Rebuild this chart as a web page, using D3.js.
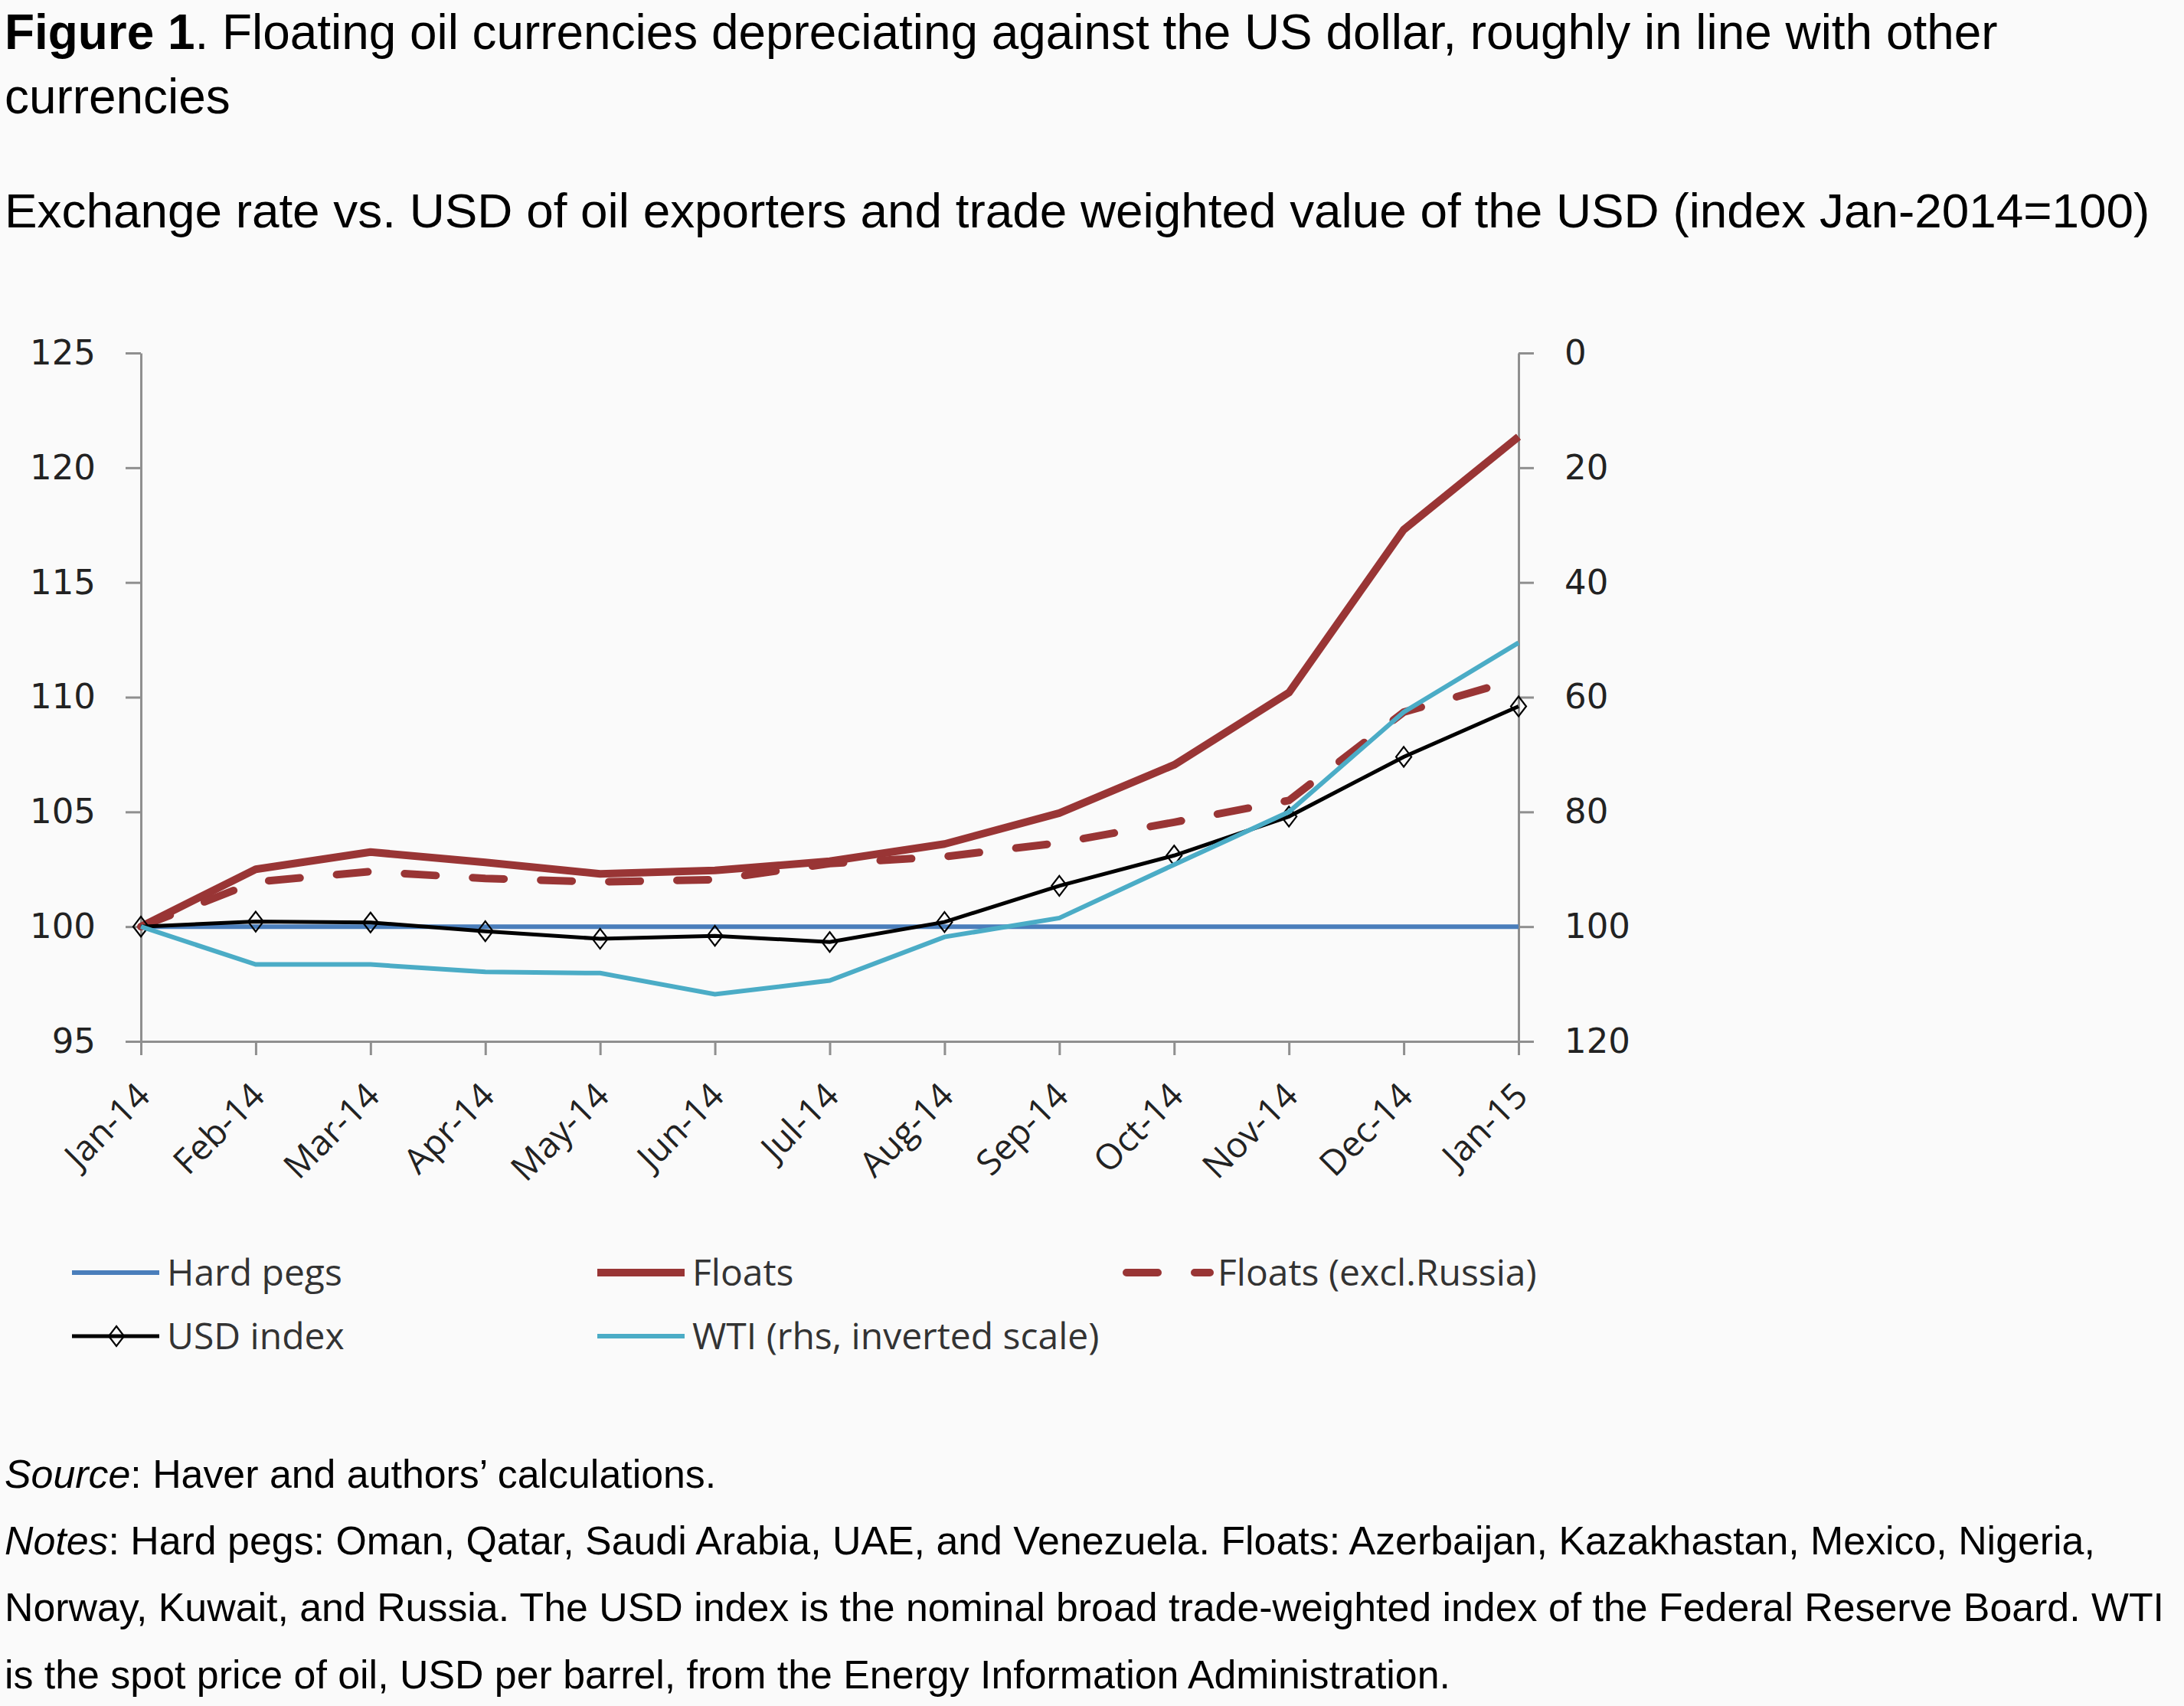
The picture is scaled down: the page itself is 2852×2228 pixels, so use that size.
<!DOCTYPE html>
<html><head><meta charset="utf-8">
<script src="https://cdn.jsdelivr.net/npm/d3@7"></script>
<style>body{margin:0;background:#fafafa;} svg{display:block;}</style>
</head><body>
<svg id="chart" width="2852" height="2228"></svg>
<script>
const months = ["Jan-14","Feb-14","Mar-14","Apr-14","May-14","Jun-14","Jul-14","Aug-14","Sep-14","Oct-14","Nov-14","Dec-14","Jan-15"];
const hardPegs = [100,100,100,100,100,100,100,100,100,100,100,100,100];
const floats = [100,102.5,103.25,102.8,102.3,102.45,102.85,103.6,104.95,107.05,110.2,117.3,121.35];
const floatsExRussia = [100,101.95,102.4,102.1,101.95,102.05,102.75,103.05,103.65,104.55,105.5,109.35,110.8];
const usdIndex = [100,100.22,100.18,99.8,99.47,99.6,99.33,100.2,101.78,103.1,104.8,107.4,109.6];
const wti = [100,106.6,106.6,107.9,108.1,111.8,109.4,101.8,98.5,89.2,80.0,62.6,50.5];
const leftTicks = [95,100,105,110,115,120,125];
const rightTicks = [0,20,40,60,80,100,120];
const legendLabels = ["Hard pegs","Floats","Floats (excl.Russia)","USD index","WTI (rhs, inverted scale)"];

const titleLine1Bold = "Figure 1";
const titleLine1Rest = ". Floating oil currencies depreciating against the US dollar, roughly in line with other";
const titleLine2 = "currencies";
const subtitle = "Exchange rate vs. USD of oil exporters and trade weighted value of the USD (index Jan-2014=100)";
const notes = [
  [["Source", true], [": Haver and authors\u2019 calculations.", false]],
  [["Notes", true], [": Hard pegs: Oman, Qatar, Saudi Arabia, UAE, and Venezuela. Floats: Azerbaijan, Kazakhastan, Mexico, Nigeria,", false]],
  [["Norway, Kuwait, and Russia. The USD index is the nominal broad trade-weighted index of the Federal Reserve Board. WTI", false]],
  [["is the spot price of oil, USD per barrel, from the Energy Information Administration.", false]]
];

const svg = d3.select("#chart");
svg.append("rect").attr("width",2852).attr("height",2228).attr("fill","#fafafa");

const sansFont = "'Liberation Sans', Arial, sans-serif";
function fitText(sel, target) {
  const w = sel.node().getComputedTextLength();
  const fs = parseFloat(sel.attr("font-size"));
  sel.attr("font-size", fs * target / w);
  return fs * target / w;
}

// Title
const t1 = svg.append("text").attr("x",6).attr("y",64).attr("font-family",sansFont).attr("font-size",56).attr("fill","#000");
t1.append("tspan").attr("font-weight","bold").text(titleLine1Bold);
t1.append("tspan").text(titleLine1Rest);
const titleSize = fitText(t1, 2603);
svg.append("text").attr("x",6).attr("y",148).attr("font-family",sansFont).attr("font-size",titleSize).attr("fill","#000").text(titleLine2);
const st = svg.append("text").attr("x",6).attr("y",297).attr("font-family",sansFont).attr("font-size",56).attr("fill","#000").text(subtitle);
fitText(st, 2802);

// Scales
const x = d3.scalePoint().domain(months).range([184,1983]);
const y = d3.scaleLinear().domain([95,125]).range([1360,461]);
const yR = d3.scaleLinear().domain([0,120]).range([461,1360]);

const axisColor = "#8f8f8f";
function styleAxis(g){
  g.select(".domain").attr("stroke",axisColor).attr("stroke-width",3);
  g.selectAll(".tick line").attr("stroke",axisColor).attr("stroke-width",3);
}

const gL = svg.append("g").attr("transform","translate(184,0)")
  .call(d3.axisLeft(y).tickValues(leftTicks).tickSize(20).tickSizeOuter(0).tickPadding(39).tickFormat(d3.format("d")));
styleAxis(gL);
gL.selectAll("text").attr("font-family","'DejaVu Sans', Verdana, sans-serif").attr("font-size",45).attr("fill","#222");

const gR = svg.append("g").attr("transform","translate(1983,0)")
  .call(d3.axisRight(yR).tickValues(rightTicks).tickSize(20).tickSizeOuter(0).tickPadding(40).tickFormat(d3.format("d")));
styleAxis(gR);
gR.selectAll("text").attr("font-family","'DejaVu Sans', Verdana, sans-serif").attr("font-size",45).attr("fill","#222");

const gX = svg.append("g").attr("transform","translate(0,1360)")
  .call(d3.axisBottom(x).tickSize(18).tickSizeOuter(0));
styleAxis(gX);
gX.selectAll("text")
  .attr("font-family","'Open Sans', sans-serif").attr("font-size",46).attr("fill","#222")
  .attr("x",0).attr("y",0).attr("dy",0)
  .attr("text-anchor","end")
  .attr("transform","translate(14,74) rotate(-45)");

// Lines
const lineL = d3.line().x((d,i)=>x(months[i])).y(d=>y(d));
const lineR = d3.line().x((d,i)=>x(months[i])).y(d=>yR(d));

const blue = "#4a7ebb", red = "#993535", cyan = "#4bacc6";
const plot = svg.append("g");
plot.append("path").datum(hardPegs).attr("d",lineL).attr("fill","none").attr("stroke",blue).attr("stroke-width",6);
plot.append("path").datum(floats).attr("d",lineL).attr("fill","none").attr("stroke",red).attr("stroke-width",10).attr("stroke-linejoin","round");
plot.append("path").datum(floatsExRussia).attr("d",lineL).attr("fill","none").attr("stroke",red).attr("stroke-width",10)
  .attr("stroke-dasharray","41 48").attr("stroke-linecap","round");
plot.append("path").datum(usdIndex).attr("d",lineL).attr("fill","none").attr("stroke","#000").attr("stroke-width",5);
const diamond = "M0,-13L10,0L0,13L-10,0Z";
plot.selectAll(".mk").data(usdIndex).join("path").attr("class","mk")
  .attr("d",diamond).attr("transform",(d,i)=>`translate(${x(months[i])},${y(d)})`)
  .attr("fill","none").attr("stroke","#000").attr("stroke-width",2.2);
plot.append("path").datum(wti).attr("d",lineR).attr("fill","none").attr("stroke",cyan).attr("stroke-width",6);

// Legend
const legendItems = [
  {label:legendLabels[0], x:94, y:1662, color:blue, w:6},
  {label:legendLabels[1], x:780, y:1662, color:red, w:10},
  {label:legendLabels[2], x:1466, y:1662, color:red, w:10, dash:true},
  {label:legendLabels[3], x:94, y:1745, color:"#000", w:5, marker:true},
  {label:legendLabels[4], x:780, y:1745, color:cyan, w:6}
];
const lg = svg.append("g");
legendItems.forEach(it=>{
  if (it.dash) {
    lg.append("line").attr("x1",it.x+5).attr("x2",it.x+114).attr("y1",it.y).attr("y2",it.y)
      .attr("stroke",it.color).attr("stroke-width",it.w).attr("stroke-dasharray","41 48").attr("stroke-linecap","round");
  } else {
    lg.append("line").attr("x1",it.x).attr("x2",it.x+114).attr("y1",it.y).attr("y2",it.y)
      .attr("stroke",it.color).attr("stroke-width",it.w);
  }
  if (it.marker) {
    lg.append("path").attr("d",diamond).attr("transform",`translate(${it.x+58},${it.y})`)
      .attr("fill","none").attr("stroke","#000").attr("stroke-width",2.2);
  }
  lg.append("text").attr("x",it.x+124).attr("y",it.y).attr("dy","0.35em")
    .attr("font-family","'Open Sans', sans-serif").attr("font-size",48).attr("fill","#333").text(it.label);
});

// Notes
const noteYs = [1943,2030,2117,2205];
const noteEls = notes.map((parts,i)=>{
  const t = svg.append("text").attr("x",6).attr("y",noteYs[i]).attr("font-family",sansFont).attr("font-size",50).attr("fill","#000");
  parts.forEach(p=>{ const ts = t.append("tspan").text(p[0]); if (p[1]) ts.attr("font-style","italic"); });
  return t;
});
const noteSize = fitText(noteEls[2], 2821);
noteEls.forEach(t=>t.attr("font-size",noteSize));
</script>
</body></html>
